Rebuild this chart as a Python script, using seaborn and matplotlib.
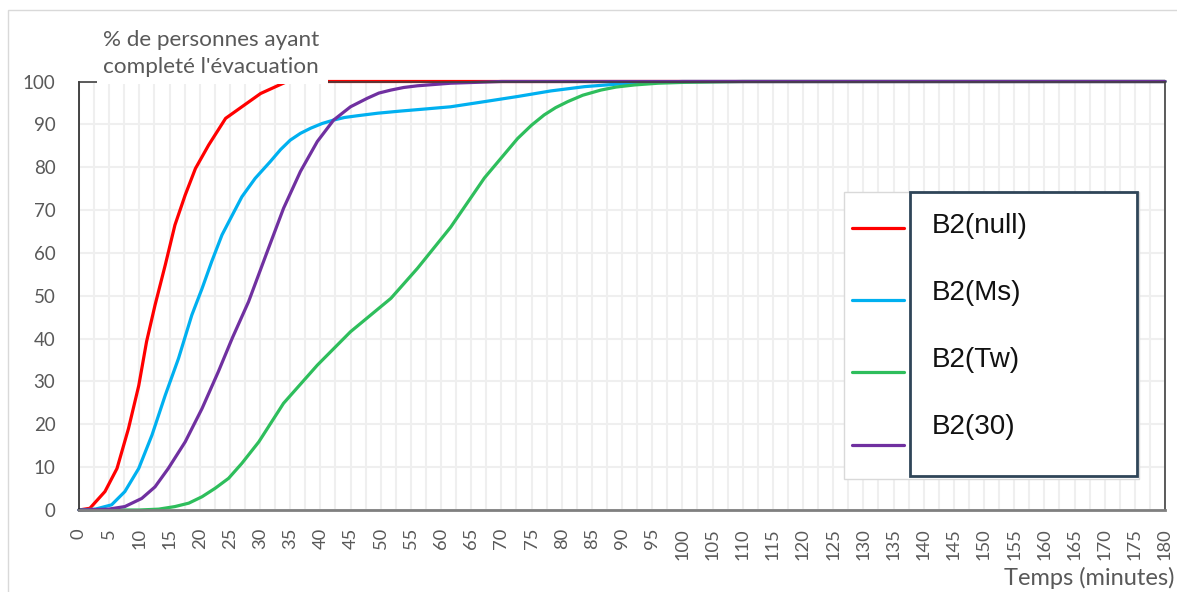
import pandas as pd
import numpy as np
import matplotlib.pyplot as plt
import seaborn as sns
from matplotlib.patches import Rectangle
from matplotlib.lines import Line2D

sns.set_style('white')
plt.rcParams['font.family'] = ['Lato', 'DejaVu Sans']

# values
scenarios = ['B2(null)', 'B2(Ms)', 'B2(Tw)', 'B2(30)']
colors = ['#FF0000', '#00B0F0', '#2EBE5C', '#7030A0']

red_t = [0, 1.8, 4.3, 6.3, 8.2, 9.9, 11.2, 12.6, 14.3, 15.9, 17.6, 19.3, 21.5, 24.3, 27, 30.1, 32.6, 34.5, 180]
red_v = [0, 0.4, 4.3, 9.7, 19, 29, 39.3, 47.8, 57.2, 66.5, 73.5, 79.7, 85.2, 91.4, 94.1, 97.2, 98.8, 100, 100]

blue_t = [0, 2.7, 5.4, 7.6, 9.9, 12.1, 14.3, 16.5, 18.7, 20.4, 22, 23.7, 25.4, 27, 29.2, 31.7, 33.4, 35, 36.7,
          38.4, 40.3, 42.2, 44, 46.1, 49.5, 53.3, 57.5, 61.6, 67.2, 72.7, 78.2, 83.8, 89.3, 94.9, 100, 180]
blue_v = [0, 0.2, 1.2, 4.3, 9.7, 17.5, 26.8, 35.4, 45.5, 51.7, 58, 64.2, 68.8, 73.1, 77.4, 81.3, 84.1, 86.3, 87.9,
          89.1, 90.2, 91, 91.6, 92, 92.6, 93.1, 93.6, 94.1, 95.3, 96.5, 97.8, 98.8, 99.4, 99.8, 100, 100]

green_t = [0, 10, 13.2, 15.9, 18.2, 20.4, 22.6, 24.8, 27, 29.8, 33.9, 39.5, 45, 51.7, 56.1, 61.6, 67.2,
           72.7, 75, 77.1, 79, 81, 83.5, 86.5, 89, 92.1, 96, 100.3, 110, 180]
green_v = [0, 0, 0.2, 0.8, 1.6, 3.1, 5.1, 7.4, 10.9, 15.9, 24.9, 33.8, 41.6, 49.4, 56.4, 66, 77.5,
           86.7, 89.8, 92.2, 93.9, 95.3, 96.8, 98, 98.7, 99.2, 99.6, 99.8, 100, 100]

purple_t = [0, 4.9, 7.6, 10.4, 12.6, 14.8, 17.6, 20.4, 23.1, 25.4, 28.1, 31.2, 33.9, 36.7, 39.5, 42.2,
            45, 47.8, 49.7, 51.7, 53.8, 56.1, 61.6, 70, 180]
purple_v = [0, 0.2, 0.8, 2.7, 5.4, 9.7, 15.9, 23.7, 32.3, 40.1, 48.6, 60.3, 70.4, 79, 86, 91,
            94.1, 96.1, 97.3, 98, 98.6, 99, 99.6, 100, 100]

x_ticks = list(range(0, 181, 5))
y_ticks = list(range(0, 101, 10))

series = [(red_t, red_v), (blue_t, blue_v), (green_t, green_v), (purple_t, purple_v)]
df = pd.concat([pd.DataFrame({'minutes': t, 'pct': v, 'scenario': name})
                for name, (t, v) in zip(scenarios, series)], ignore_index=True)

W, H = 1177, 592
fx = lambda px: px / W
fy = lambda py: 1 - py / H

fig = plt.figure(figsize=(W / 100, H / 100), dpi=100)
ax = fig.add_axes([fx(79), fy(510), fx(1165) - fx(79), (510 - 81.5) / H])

sns.lineplot(data=df, x='minutes', y='pct', hue='scenario', palette=colors, hue_order=scenarios,
             linewidth=2.3, legend=False, estimator=None, sort=False, ax=ax)
for ln in ax.lines:
    ln.set_clip_on(False)
    ln.set_solid_joinstyle('round')

ax.set_xlim(0, 180)
ax.set_ylim(0, 100)
ax.set_xticks(x_ticks)
ax.set_xticks(np.arange(2.5, 180, 5), minor=True)
ax.set_yticks(y_ticks)
ax.set_xlabel('')
ax.set_ylabel('')
ax.set_axisbelow(True)
ax.grid(True, which='both', color='#efefef', linewidth=1.5)
ax.tick_params(axis='x', which='both', length=0, pad=13, labelrotation=90, labelsize=13.2, labelcolor='#595959')
ax.tick_params(axis='y', length=0, pad=17, labelsize=13.5, labelcolor='#595959')

ax.spines['left'].set_color('#262626')
ax.spines['left'].set_linewidth(1.2)
for s in ['top', 'right']:
    ax.spines[s].set_color('#404040')
    ax.spines[s].set_linewidth(1.2)
ax.spines['bottom'].set_color('#7f7f7f')
ax.spines['bottom'].set_linewidth(2)

# outer chart frame
fig.add_artist(Rectangle((fx(8), fy(600)), fx(1185) - fx(8), (600 - 10) / H, transform=fig.transFigure,
                         fc='none', ec='#d9d9d9', lw=1, zorder=1))

# title box sitting over the plot top
fig.add_artist(Rectangle((fx(97), fy(84)), fx(328) - fx(97), (84 - 24) / H, transform=fig.transFigure,
                         fc='white', ec='none', zorder=5))
fig.text(fx(211), fy(46), '% de personnes ayant', ha='center', va='baseline', fontsize=16.2,
         color='#595959', zorder=6)
fig.text(fx(211), fy(73), "completé l'évacuation", ha='center', va='baseline', fontsize=16.2,
         color='#595959', zorder=6)
fig.text(fx(1174), fy(578), 'Temps (minutes)', ha='right', va='center', fontsize=17, color='#595959')

# legend, drawn by hand to match the boxed layout
fig.add_artist(Rectangle((fx(844), fy(479)), fx(1139) - fx(844), (479 - 192) / H, transform=fig.transFigure,
                         fc='white', ec='#d9d9d9', lw=1, zorder=4))
fig.add_artist(Rectangle((fx(910), fy(476)), fx(1137) - fx(910), (476 - 192) / H, transform=fig.transFigure,
                         fc='white', ec='#2F4558', lw=2, zorder=5))
line_y = [228, 300, 372, 445]
text_y = [233, 300, 367, 434]
for name, c, ly, ty in zip(scenarios, colors, line_y, text_y):
    fig.add_artist(Line2D([fx(852), fx(904)], [fy(ly), fy(ly)], transform=fig.transFigure,
                          color=c, lw=2.3, zorder=6))
    fig.text(fx(932), fy(ty), name, ha='left', va='baseline', fontsize=20,
             family=['Liberation Sans', 'DejaVu Sans'], color='#111111', zorder=6)

fig.savefig('out.png', dpi=100)
